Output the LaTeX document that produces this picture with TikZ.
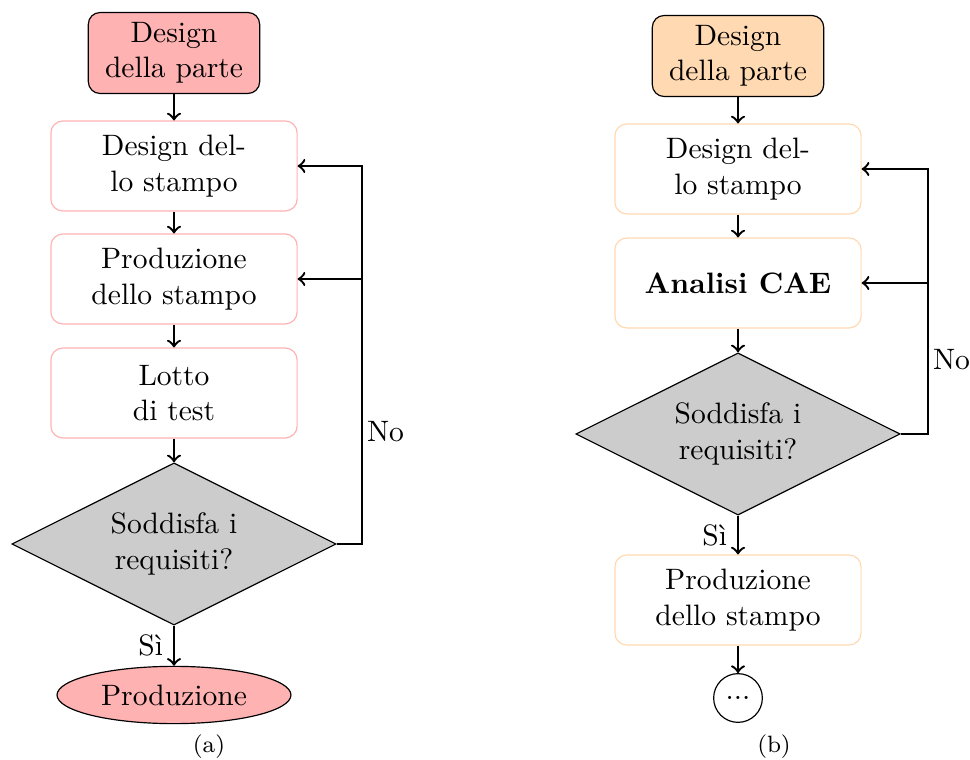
\documentclass[tikz,border=0pt]{standalone}
\usepackage{tikz}
\usetikzlibrary{shapes.geometric}

\tikzset{
  startbox/.style={draw, rounded corners, align=center, minimum width=2.04cm, minimum height=0.96cm},
  procbox/.style={draw, rounded corners, align=center, minimum width=2.93cm, minimum height=1.07cm},
  decision/.style={diamond, draw, fill=gray!40, align=center, aspect=2, inner sep=0pt, minimum width=3.86cm, minimum height=1.93cm},
  flow/.style={->, thick},
}

\begin{document}
\begin{tikzpicture}[x=0.0119cm, y=-0.0119cm]
  \useasboundingbox (0,0) rectangle (970,760);

  % (a)
  \node[startbox, fill=red!30] (partA) at (174,53) {Design\\della parte};
  \node[procbox, draw=red!30] (moldA) at (174,166) {Design del-\\lo stampo};
  \node[procbox, draw=red!30] (prodA) at (174,279) {Produzione\\dello stampo};
  \node[procbox, draw=red!30] (lotA) at (174,393) {Lotto\\di test};
  \node[decision] (checkA) at (174,544) {Soddisfa i\\requisiti?};
  \node[ellipse, draw, fill=red!30, minimum width=2.74cm, minimum height=0.64cm] (endA) at (174,695) {Produzione};
  \node[font=\footnotesize] (capA) at (209,747) {(a)};
  \coordinate (loopA) at (362,166);

  \draw[flow] (partA) -- (moldA);
  \draw[flow] (moldA) -- (prodA);
  \draw[flow] (prodA) -- (lotA);
  \draw[flow] (lotA) -- (checkA);
  \draw[flow] (checkA) -- node[left] (siA) {Sì} (endA);
  \draw[flow] (checkA.east) -| (loopA) -- (moldA.east);
  \draw[flow] (loopA |- prodA.east) -- (prodA.east);
  \node[anchor=west, inner sep=1.5pt] (noA) at (362,432) {No};

  % (b)
  \node[startbox, fill=orange!30] (partB) at (738,56) {Design\\della parte};
  \node[procbox, draw=orange!30] (moldB) at (738,169) {Design del-\\lo stampo};
  \node[procbox, draw=orange!30] (caeB) at (738,283) {\textbf{Analisi CAE}};
  \node[decision] (checkB) at (738,434) {Soddisfa i\\requisiti?};
  \node[procbox, draw=orange!30] (prodB) at (738,600) {Produzione\\dello stampo};
  \node[circle, draw, minimum size=0.58cm, inner sep=0pt] (moreB) at (738,698) {...};
  \node[font=\footnotesize] (capB) at (774,747) {(b)};
  \coordinate (loopB) at (928,169);

  \draw[flow] (partB) -- (moldB);
  \draw[flow] (moldB) -- (caeB);
  \draw[flow] (caeB) -- (checkB);
  \draw[flow] (checkB) -- node[left] (siB) {Sì} (prodB);
  \draw[flow] (prodB) -- (moreB);
  \draw[flow] (checkB.east) -| (loopB) -- (moldB.east);
  \draw[flow] (loopB |- caeB.east) -- (caeB.east);
  \node[anchor=west, inner sep=1.5pt] (noB) at (928,360) {No};
\end{tikzpicture}
\end{document}
